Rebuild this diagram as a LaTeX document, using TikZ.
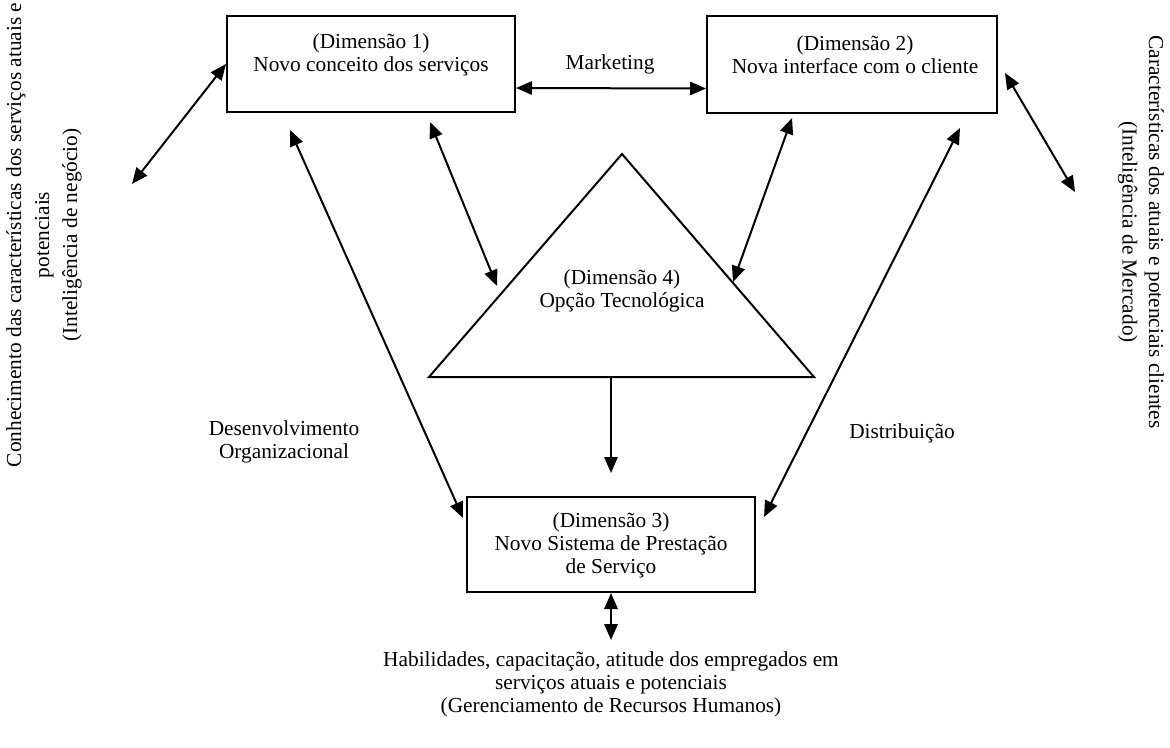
\documentclass[tikz,border=0pt]{standalone}
\usepackage{fontspec}
\setmainfont{Liberation Serif}
\usetikzlibrary{arrows.meta}
\begin{document}
\begin{tikzpicture}[x=0.6pt,y=-0.6pt,
  every node/.style={font=\fontsize{12.8}{13.8}\selectfont, align=center, inner sep=0pt},
  box/.style={draw, line width=1.2pt, inner sep=0pt},
  dbl/.style={{Triangle[length=9.6pt,width=8pt]}-{Triangle[length=9.6pt,width=8pt]}, line width=1.2pt},
  one/.style={-{Triangle[length=9.6pt,width=8pt]}, line width=1.2pt}]
\useasboundingbox (0,0) rectangle (1170,747);

% boxes
\node[box, minimum width=172.8pt, minimum height=57.6pt] (d1) at (371,64) {};
\node (d1t) at (371,55) {(Dimensão 1)\\Novo conceito dos serviços};
\node[box, minimum width=174pt, minimum height=58.2pt] (d2) at (852,64.5) {};
\node (d2t) at (855,55) {(Dimensão 2)\\Nova interface com o cliente};
\node[box, minimum width=172.8pt, minimum height=57pt] (d3) at (611,544.5) {};
\node (d3t) at (611,545) {(Dimensão 3)\\Novo Sistema de Prestação\\de Serviço};

% triangle
\coordinate (tA) at (622,154);
\coordinate (tL) at (429,377);
\coordinate (tR) at (814,377);
\coordinate (tB) at (611,377);
\draw[line width=1.2pt, line join=miter] (tA) -- (tL) -- (tR) -- cycle;
\node (d4t) at (622,291) {(Dimensão 4)\\Opção Tecnológica};

% labels
\node (mk) at (610,64) {Marketing};
\node (dev) at (284,442) {Desenvolvimento\\Organizacional};
\node (dist) at (902,433) {Distribuição};
\node (hr) at (611,684) {Habilidades, capacitação, atitude dos empregados em\\serviços atuais e potenciais\\(Gerenciamento de Recursos Humanos)};
\node[rotate=90, font=\fontsize{12.8}{16.8}\selectfont] (lt) at (44,235) {Conhecimento das características dos serviços atuais e\\potenciais\\(Inteligência de negócio)};
\node[rotate=-90, font=\fontsize{12.8}{16}\selectfont] (rt) at (1141,232) {Características dos atuais e potenciais clientes\\(Inteligência de Mercado)};

% free ends
\coordinate (lend) at (132,184);
\coordinate (rs) at (1005,73);
\coordinate (re) at (1075,192);
\coordinate (a1) at (290,130);
\coordinate (a2) at (463,518);
\coordinate (b1) at (430,122);
\coordinate (b2) at (497,286);
\coordinate (c1) at (792,118);
\coordinate (c2) at (733,282);
\coordinate (e1) at (960,128);
\coordinate (e2) at (764,517);
\coordinate (f2) at (611,473);
\coordinate (g2) at (611,640);

% connectors
\draw[dbl] (lend) -- (d1.west);
\draw[dbl] (rs) -- (re);
\draw[dbl] ([yshift=-14.4pt]d1.east) -- ([yshift=-14.4pt]d2.west);
\draw[dbl] (a1) -- (a2);
\draw[dbl] (b1) -- (b2);
\draw[dbl] (c1) -- (c2);
\draw[dbl] (e1) -- (e2);
\draw[one] (tB) -- (f2);
\draw[dbl] (d3.south) -- (g2);
\end{tikzpicture}
\end{document}
